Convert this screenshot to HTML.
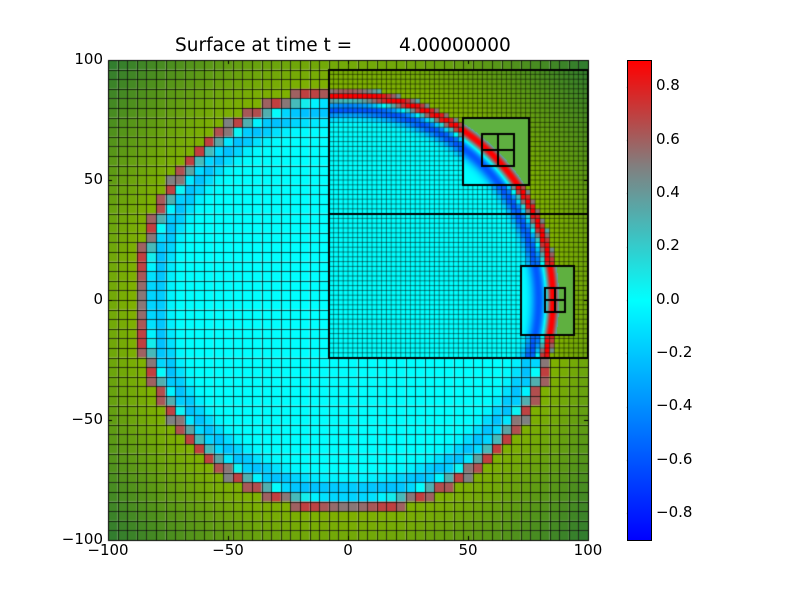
<!DOCTYPE html>
<html><head><meta charset="utf-8"><style>
body{margin:0;background:#fff;width:800px;height:600px;position:relative;overflow:hidden;font-family:"DejaVu Sans","Liberation Sans",sans-serif;}
.t{position:absolute;font-size:15px;color:#000;white-space:pre;}
.xl{transform:translateX(-50%);top:541px;}
.yl{text-align:right;width:70px;left:33px;}
.cl{left:656px;}
#cb{position:absolute;left:627px;top:60px;width:23px;height:479px;border:1px solid #000;background:linear-gradient(to bottom,#ff0000 0%,#808080 22.2%,#00ffff 50%,#0080ff 75%,#0000ff 100%);}
</style></head><body>
<canvas id="c" width="800" height="600" style="position:absolute;left:0;top:0"></canvas>
<div class="t" style="left:175px;top:35px;font-size:18.5px">Surface at time t =</div>
<div class="t" style="left:399px;top:35px;font-size:18.5px">4.00000000</div>
<div class="t xl" style="left:108px">−100</div>
<div class="t xl" style="left:228px">−50</div>
<div class="t xl" style="left:348px">0</div>
<div class="t xl" style="left:468px">50</div>
<div class="t xl" style="left:588px">100</div>
<div class="t yl" style="top:50px">100</div>
<div class="t yl" style="top:170px">50</div>
<div class="t yl" style="top:290px">0</div>
<div class="t yl" style="top:410px">−50</div>
<div class="t yl" style="top:530px">−100</div>
<div id="cb"></div>
<div class="t cl" style="top:76px">0.8</div>
<div class="t cl" style="top:130px">0.6</div>
<div class="t cl" style="top:183px">0.4</div>
<div class="t cl" style="top:236px">0.2</div>
<div class="t cl" style="top:290px">0.0</div>
<div class="t cl" style="top:343px">−0.2</div>
<div class="t cl" style="top:396px">−0.4</div>
<div class="t cl" style="top:450px">−0.6</div>
<div class="t cl" style="top:503px">−0.8</div>
<script>
const c=document.getElementById('c').getContext('2d');
const X0=108,Y0=60,S=2.4;
function px(x){return X0+(x+100)*S}
function py(y){return Y0+(100-y)*S}
function lerp(a,b,t){return a.map((v,i)=>v+(b[i]-v)*t)}
function cmap(e){
 e=Math.max(-0.9,Math.min(0.9,e));
 if(e>=0.5)return lerp([128,128,128],[255,0,0],(e-0.5)/0.4);
 if(e>=0)return lerp([0,255,255],[128,128,128],e/0.5);
 if(e>=-0.45)return lerp([0,255,255],[0,128,255],-e/0.45);
 return lerp([0,128,255],[0,0,255],(-e-0.45)/0.45);
}
function g(v,w){return Math.exp(-v*v/(w*w))}
function col(x,y,fine,l3){
 const r=Math.hypot(x,y);
 if(r>(fine?88:89.8)){
  if(l3)return[95,176,64];
  const t=Math.max(0,Math.min(1,(r-88)/(141-88)));
  return lerp([128,178,0],[46,122,48],Math.pow(t,1.1));
 }
 let e;
 if(fine) e=0.95*g(r-85.3,2.6)-0.6*g(r-79.5,3.2);
 else e=0.72*g(r-87.5,3.0)-0.22*g(r-80,4.5);
 return cmap(e);
}
function rgb(a){return 'rgb('+a.map(Math.round).join(',')+')'}
for(let i=0;i<50;i++)for(let j=0;j<50;j++){
 const x=-100+i*4+2,y=100-j*4-2;
 c.fillStyle=rgb(col(x,y,false));c.fillRect(X0+i*9.6,Y0+j*9.6,9.6,9.6);
}
c.strokeStyle='rgba(0,0,0,0.7)';c.lineWidth=1;c.beginPath();
for(let i=0;i<=50;i++){let p=Math.round(X0+i*9.6)+.5;c.moveTo(p,Y0);c.lineTo(p,540);let q=Math.round(Y0+i*9.6)+.5;c.moveTo(X0,q);c.lineTo(588,q);}
c.stroke();
for(let x=-8;x<100;x+=2)for(let y=-24;y<96;y+=2){
 c.fillStyle=rgb(col(x+1,y+1,true));c.fillRect(px(x),py(y+2),4.8+0.3,4.8+0.3);
}
c.strokeStyle='rgba(0,0,0,0.6)';c.lineWidth=0.8;c.beginPath();
for(let x=-8;x<=100;x+=2){c.moveTo(px(x),py(96));c.lineTo(px(x),py(-24));}
for(let y=-24;y<=96;y+=2){c.moveTo(px(-8),py(y));c.lineTo(px(100),py(y));}
c.stroke();
function l3(x1,x2,y1,y2){
 const a=Math.round(px(x1)),b=Math.round(px(x2)),t=Math.round(py(y2)),d=Math.round(py(y1));
 for(let X=a;X<b;X++)for(let Y=t;Y<d;Y++){
  const x=(X+0.5-X0)/S-100,y=100-(Y+0.5-Y0)/S;
  c.fillStyle=rgb(col(x,y,true,true));c.fillRect(X,Y,1,1);
 }
 c.strokeStyle='#000';c.lineWidth=2;c.strokeRect(a,t,b-a,d-t);
}
l3(48,75.5,48,76);
l3(72,94.2,-14.5,14);
c.strokeStyle='#000';c.lineWidth=2;
c.strokeRect(329,70,259,288);c.beginPath();c.moveTo(329,214);c.lineTo(588,214);c.stroke();
function l4(a,t,w,h){c.strokeRect(a,t,w,h);c.beginPath();c.moveTo(a+w/2,t);c.lineTo(a+w/2,t+h);c.moveTo(a,t+h/2);c.lineTo(a+w,t+h/2);c.stroke();}
l4(482,134,32,32);l4(545,288,20,24);
c.lineWidth=1;c.strokeStyle='#000';c.strokeRect(108.5,60.5,480,480);
c.beginPath();
for(let k=0;k<5;k++){let p=Math.round(X0+k*120)+.5;c.moveTo(p,540);c.lineTo(p,536);c.moveTo(p,60);c.lineTo(p,64);
 let q=Math.round(Y0+k*120)+.5;c.moveTo(108,q);c.lineTo(112,q);c.moveTo(588,q);c.lineTo(584,q);}
for(let k=-4;k<=4;k++){let q=Math.round(300-k*0.2/1.8*480)+.5;c.moveTo(651,q);c.lineTo(647,q);c.moveTo(627,q);c.lineTo(631,q);}
c.stroke();
</script>
</body></html>
